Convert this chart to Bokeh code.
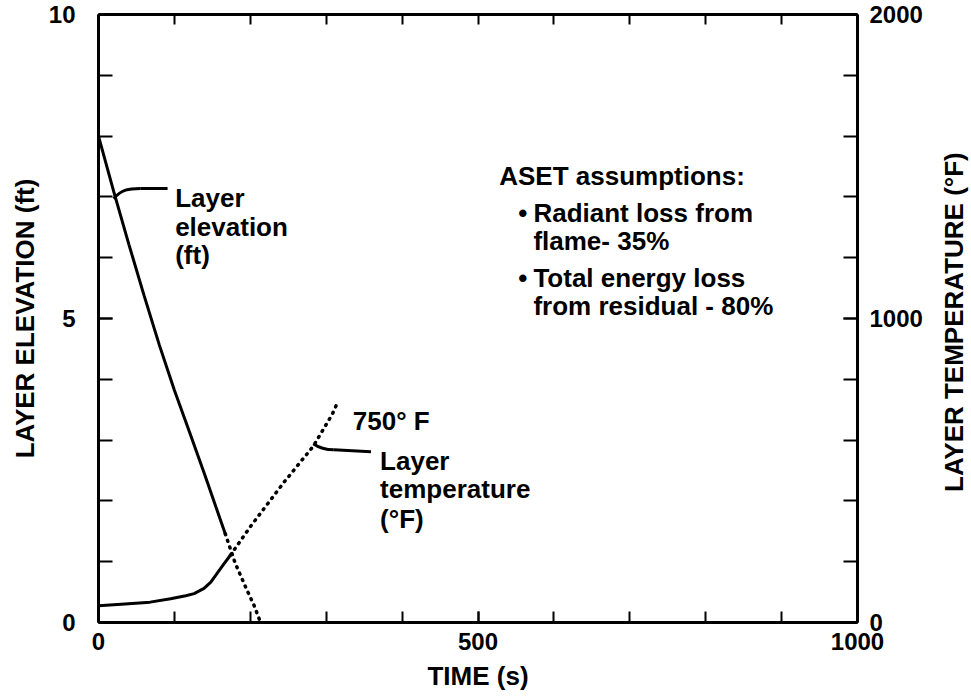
from bokeh.plotting import figure
from bokeh.layouts import row
from bokeh.models import Range1d, LinearAxis, FixedTicker
from bokeh.core.properties import value
from bokeh.embed import file_html
from bokeh.resources import INLINE

FONT = "Liberation Sans"

# ---- data ----
elev_t_solid = [0, 20, 40, 60, 80, 100, 120, 140, 160, 167]
elev_solid = [8.0, 7.09, 6.22, 5.38, 4.57, 3.82, 3.13, 2.43, 1.71, 1.46]
elev_t_dot = [167, 180, 195, 205, 212]
elev_dot = [1.46, 0.98, 0.55, 0.28, 0.05]

temp_t_solid = [0, 30, 68, 95, 115, 126, 139, 148, 156, 165, 174]
temp_solid = [55, 60, 67, 78, 88, 95, 112, 133, 161, 192, 222]
temp_t_dot = [174, 200, 244, 283, 308, 316]
temp_dot = [222, 315, 460, 580, 685, 730]

x_ticks = [0, 500, 1000]
x_minor = list(range(0, 1001, 100))
elev_ticks = [0, 5, 10]
elev_minor = list(range(0, 11))
temp_ticks = [0, 1000, 2000]
temp_minor = list(range(0, 2001, 200))

# annotation texts (positions in time / elevation units)
elev_label_lines = ["Layer", "elevation", "(ft)"]
elev_label_x = 101
elev_label_y = [6.99, 6.50, 6.04]

temp_label_lines = ["Layer", "temperature", "(\u00b0F)"]
temp_label_x = 371
temp_label_y = [2.66, 2.19, 1.71]

end_label = ["750\u00b0 F"]
end_label_x = [335]
end_label_y = [3.32]

aset_lines = ["ASET assumptions:", "Radiant loss from", "flame- 35%",
              "Total energy loss", "from residual - 80%"]
aset_x = [528, 573, 573, 573, 573]
aset_y = [7.34, 6.74, 6.28, 5.67, 5.21]
bullet_x = [553, 553]
bullet_y = [6.74, 5.67]

right_title = "LAYER TEMPERATURE  (\u00b0F)"

MAIN_W = 935
TITLE_W = 971 - MAIN_W

p = figure(width=MAIN_W, height=697,
           x_range=Range1d(0, 1000), y_range=Range1d(0, 10),
           output_backend="svg", toolbar_location=None,
           x_axis_location=None, y_axis_location=None,
           min_border_left=98, min_border_right=MAIN_W - 857,
           min_border_top=14, min_border_bottom=75)
p.extra_y_ranges = {"temp": Range1d(0, 2000)}
p.grid.visible = False
p.outline_line_color = None
p.background_fill_color = "white"
p.border_fill_color = "white"


def style(ax, tick_len):
    ax.axis_line_width = 3
    ax.axis_line_color = "black"
    ax.major_tick_in = tick_len
    ax.major_tick_out = 0
    ax.minor_tick_in = tick_len
    ax.minor_tick_out = 0
    ax.major_tick_line_width = 2
    ax.minor_tick_line_width = 2
    ax.major_tick_line_color = "black"
    ax.minor_tick_line_color = "black"
    ax.major_label_text_font = FONT
    ax.major_label_text_font_style = "bold"
    ax.major_label_text_font_size = "24px"
    ax.major_label_text_color = "black"
    ax.axis_label_text_font = FONT
    ax.axis_label_text_font_style = "bold"
    ax.axis_label_text_font_size = "26px"
    ax.axis_label_text_color = "black"


xb = LinearAxis(ticker=FixedTicker(ticks=x_ticks, minor_ticks=x_minor),
                axis_label="TIME (s)")
style(xb, 11)
xb.major_label_standoff = 10
xb.axis_label_standoff = 8
p.add_layout(xb, "below")

# top edge: tick marks only (no labels)
xt = LinearAxis(ticker=FixedTicker(ticks=[], minor_ticks=x_minor))
style(xt, 10)
xt.major_label_standoff = 0
p.add_layout(xt, "above")

yl = LinearAxis(ticker=FixedTicker(ticks=elev_ticks, minor_ticks=elev_minor),
                axis_label="LAYER ELEVATION (ft)")
style(yl, 14)
yl.major_label_standoff = 23
yl.axis_label_standoff = 6
p.add_layout(yl, "left")

yr = LinearAxis(y_range_name="temp",
                ticker=FixedTicker(ticks=temp_ticks, minor_ticks=temp_minor))
style(yr, 14)
yr.major_label_standoff = 12
p.add_layout(yr, "right")

# curves
p.line(elev_t_solid, elev_solid, line_color="black", line_width=3)
p.line(elev_t_dot, elev_dot, line_color="black", line_width=3.5,
       line_dash="1 6", line_cap="round")
p.line(temp_t_solid, temp_solid, y_range_name="temp", line_color="black",
       line_width=3, line_join="round")
p.line(temp_t_dot, temp_dot, y_range_name="temp", line_color="black", line_width=3.5,
       line_dash="1 6", line_cap="round")

# leader lines
p.bezier(x0=[20], y0=[6.97], x1=[55], y1=[7.14], cx0=[30], cy0=[7.12],
         cx1=[40], cy1=[7.14], line_color="black", line_width=3)
p.line([55, 91], [7.14, 7.14], line_color="black", line_width=3)
p.bezier(x0=[283], y0=[2.94], x1=[310], y1=[2.84], cx0=[292], cy0=[2.86],
         cx1=[300], cy1=[2.84], line_color="black", line_width=3)
p.line([310, 359], [2.84, 2.81], line_color="black", line_width=3)

txt = dict(text_font=value(FONT), text_font_style="bold", text_font_size="26px",
           text_color="black", text_baseline="alphabetic", text_align="left")
p.text(x=[elev_label_x] * 3, y=elev_label_y, text=elev_label_lines, **txt)
p.text(x=[temp_label_x] * 3, y=temp_label_y, text=temp_label_lines, **txt)
p.text(x=end_label_x, y=end_label_y, text=end_label, **txt)
p.text(x=aset_x, y=aset_y, text=aset_lines, **txt)
p.text(x=bullet_x, y=bullet_y, text=["\u2022", "\u2022"], **txt)

# narrow companion panel carrying the temperature-axis title (reads bottom-to-top)
p2 = figure(width=TITLE_W, height=697,
            x_range=Range1d(0, 1), y_range=Range1d(0, 2000),
            output_backend="svg", toolbar_location=None,
            x_axis_location=None, y_axis_location=None,
            min_border_left=TITLE_W - 3, min_border_right=0,
            min_border_top=14, min_border_bottom=75)
p2.grid.visible = False
p2.outline_line_color = None
p2.background_fill_color = "white"
p2.border_fill_color = "white"
ta = LinearAxis(ticker=FixedTicker(ticks=[]), axis_label=right_title)
style(ta, 0)
ta.axis_line_color = None
ta.major_tick_line_color = None
ta.minor_tick_line_color = None
ta.major_label_standoff = 0
ta.axis_label_standoff = 0
p2.add_layout(ta, "left")

layout = row(p, p2, spacing=0)
open("out.html", "w").write(file_html(layout, INLINE))
